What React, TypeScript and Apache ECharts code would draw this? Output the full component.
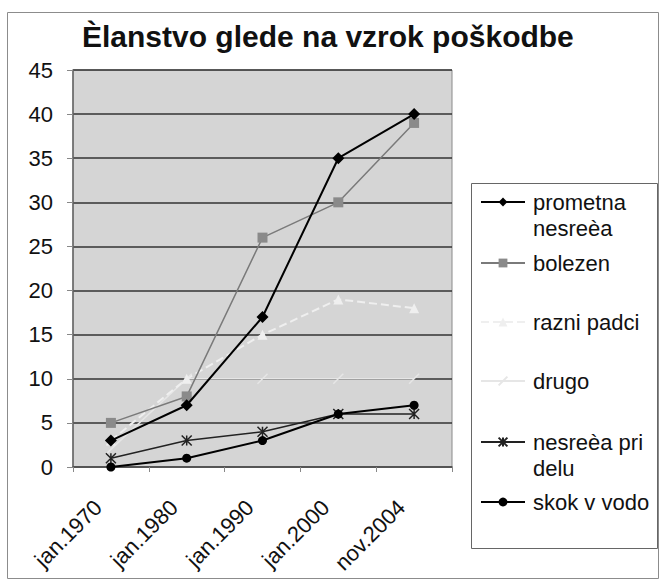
import React, { useEffect, useRef } from "react";
import * as echarts from "echarts";

const categories = ["jan.1970", "jan.1980", "jan.1990", "jan.2000", "nov.2004"];
const prometna = [3, 7, 17, 35, 40];
const bolezen = [5, 8, 26, 30, 39];
const razniPadci = [3, 10, 15, 19, 18];
const drugo = [2, 10, 10, 10, 10];
const priDelu = [1, 3, 4, 6, 6];
const skok = [0, 1, 3, 6, 7];
const seriesNames = [
  "prometna nesreèa",
  "bolezen",
  "razni padci",
  "drugo",
  "nesreèa pri delu",
  "skok v vodo",
];
const legendLabels = [
  "prometna\nnesreèa",
  "bolezen",
  "razni padci",
  "drugo",
  "nesreèa pri\ndelu",
  "skok v vodo",
];
const legendCenters = [202, 263, 322, 381, 442, 502];

const FONT = "'Liberation Sans', Arial, sans-serif";
const ASTER = "path://M5,0L5,10M0,0L10,10M10,0L0,10";
const SLASH = "path://M0,10L10,0";

export default function App() {
  const ref = useRef<HTMLDivElement>(null);
  useEffect(() => {
    document.body.style.margin = "0";
    const chart = echarts.init(ref.current!, null, { renderer: "svg" });
    const mk = (name: string, data: number[], color: string, symbol: string, size: number, width: number, extra: any = {}) => ({
      name,
      type: "line",
      data,
      symbol,
      symbolSize: size,
      showSymbol: true,
      lineStyle: { color, width, type: extra.type || "solid" },
      itemStyle: { color: extra.fill || color, borderColor: color, borderWidth: extra.bw ?? 0 },
      emphasis: { disabled: true },
      z: extra.z || 2,
    });
    const legends = seriesNames.map((n, i) => {
      const two = legendLabels[i].includes("\n");
      return {
        show: true,
        orient: "vertical",
        left: 480,
        top: two ? legendCenters[i] - 39 : legendCenters[i] - 13,
        padding: 0,
        itemWidth: 44,
        itemHeight: 11,
        data: [n],
        formatter: () => (two ? " \n" + legendLabels[i] : legendLabels[i]),
        selectedMode: false,
        textStyle: {
          fontSize: 22,
          fontFamily: FONT,
          color: "#111",
          lineHeight: 26,
          padding: [0, 0, 0, 3],
        },
      };
    });
    chart.setOption({
      animation: false,
      backgroundColor: "#ffffff",
      title: {
        text: "Èlanstvo glede na vzrok poškodbe",
        left: 82,
        top: 21,
        padding: 0,
        textStyle: { fontSize: 30, fontWeight: "bold", fontFamily: FONT, color: "#111" },
      },
      legend: legends,
      grid: {
        left: 73,
        right: 207,
        top: 70,
        bottom: 116,
        show: true,
        backgroundColor: "#d5d5d5",
        borderColor: "#8a8a8a",
        borderWidth: 1,
      },
      xAxis: {
        type: "category",
        data: categories,
        boundaryGap: true,
        axisLine: { lineStyle: { color: "#555", width: 1.5 } },
        axisTick: { show: true, interval: 0, length: 5, lineStyle: { color: "#888" } },
        axisLabel: {
          interval: 0,
          rotate: 45,
          margin: 24,
          padding: [0, 18, 0, 0],
          fontSize: 22,
          fontFamily: FONT,
          color: "#111",
        },
      },
      yAxis: {
        type: "value",
        min: 0,
        max: 45,
        interval: 5,
        axisLine: { show: true, lineStyle: { color: "#666", width: 1.5 } },
        axisTick: { show: true, length: 6, lineStyle: { color: "#888" } },
        axisLabel: { fontSize: 22, fontFamily: FONT, color: "#111", margin: 20 },
        splitLine: { show: true, lineStyle: { color: "#333", width: 1.5 } },
      },
      graphic: [
        {
          type: "rect",
          shape: { x: 7.5, y: 12.5, width: 651, height: 566 },
          style: { fill: "none", stroke: "#8c8c8c", lineWidth: 1 },
          silent: true,
        },
        {
          type: "rect",
          shape: { x: 471.5, y: 183.5, width: 186, height: 365 },
          style: { fill: "none", stroke: "#666", lineWidth: 1 },
          silent: true,
        },
      ],
      series: [
        mk(seriesNames[3], drugo, "#e6e6e6", SLASH, 10, 1.5, { bw: 1.5, z: 1 }),
        mk(seriesNames[2], razniPadci, "#efefef", "triangle", 10, 2, { type: "dashed", z: 1 }),
        mk(seriesNames[1], bolezen, "#7a7a7a", "rect", 10, 1.5, { fill: "#8a8a8a" }),
        mk(seriesNames[0], prometna, "#000000", "diamond", 12, 2, { z: 3 }),
        mk(seriesNames[4], priDelu, "#222222", ASTER, 10, 1.5, { bw: 1.5, z: 3 }),
        mk(seriesNames[5], skok, "#000000", "circle", 9, 2, { z: 3 }),
      ],
    });
    return () => chart.dispose();
  }, []);
  return <div ref={ref} style={{ width: 659, height: 583 }} />;
}
